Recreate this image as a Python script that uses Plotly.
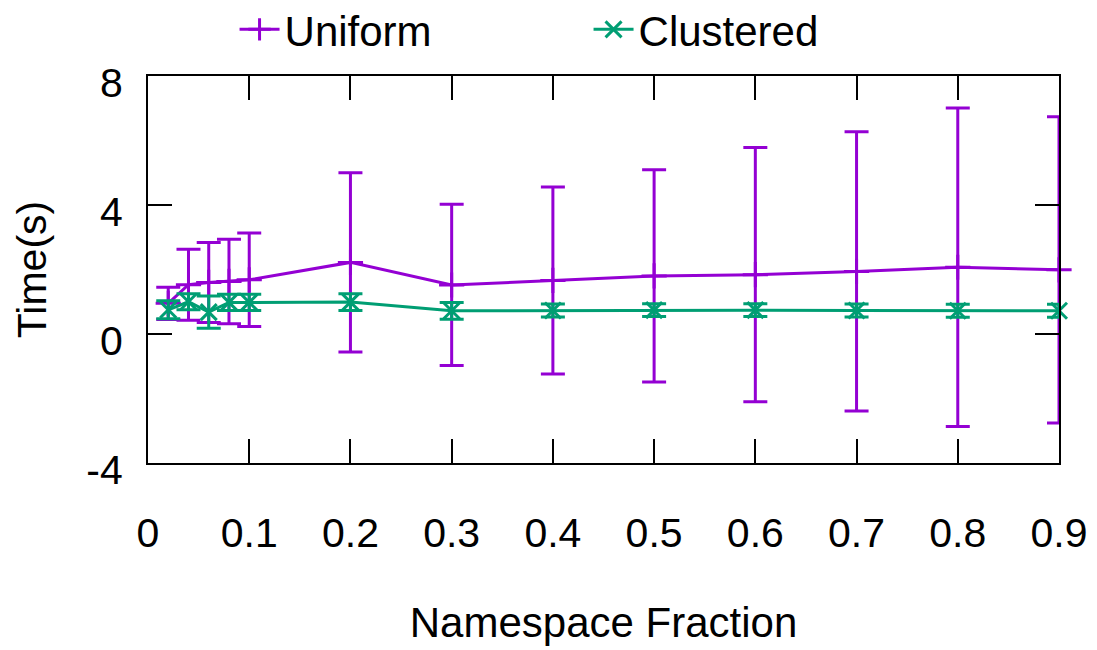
import plotly.graph_objects as go

fractions = [0.02, 0.04, 0.06, 0.08, 0.1, 0.2, 0.3, 0.4, 0.5, 0.6, 0.7, 0.8, 0.9]

uniform_mean = [0.95, 1.53, 1.60, 1.63, 1.68, 2.22, 1.52, 1.66, 1.80, 1.84, 1.94, 2.07, 1.99]
uniform_err = [0.50, 1.10, 1.24, 1.31, 1.45, 2.78, 2.50, 2.90, 3.29, 3.94, 4.33, 4.94, 4.75]

clustered_mean = [0.75, 1.00, 0.68, 0.98, 0.98, 0.99, 0.72, 0.73, 0.74, 0.74, 0.73, 0.72, 0.72]
clustered_err = [0.28, 0.25, 0.50, 0.25, 0.25, 0.26, 0.26, 0.20, 0.20, 0.20, 0.20, 0.20, 0.20]

x_tickvals = [0, 0.1, 0.2, 0.3, 0.4, 0.5, 0.6, 0.7, 0.8, 0.9]
x_ticktext = ["0", "0.1", "0.2", "0.3", "0.4", "0.5", "0.6", "0.7", "0.8", "0.9"]
y_tickvals = [-4, 0, 4, 8]
y_ticktext = ["-4", "0", "4", "8"]

PURPLE = "#9400D3"
GREEN = "#009E73"
FONT = "Liberation Sans, Arial, sans-serif"

fig = go.Figure()
fig.add_trace(go.Scatter(
    x=fractions, y=uniform_mean, name="Uniform", mode="lines+markers",
    line=dict(color=PURPLE, width=3),
    marker=dict(symbol="cross-thin-open", size=18, color=PURPLE,
                line=dict(color=PURPLE, width=3)),
    error_y=dict(type="data", array=uniform_err, visible=True,
                 color=PURPLE, thickness=3, width=12),
    cliponaxis=False,
))
fig.add_trace(go.Scatter(
    x=fractions, y=clustered_mean, name="Clustered", mode="lines+markers",
    line=dict(color=GREEN, width=3),
    marker=dict(symbol="x-thin-open", size=16, color=GREEN,
                line=dict(color=GREEN, width=3)),
    error_y=dict(type="data", array=clustered_err, visible=True,
                 color=GREEN, thickness=3, width=12),
    cliponaxis=False,
))

fig.update_layout(
    width=1089, height=642,
    margin=dict(l=140, r=38, t=68, b=187, autoexpand=False),
    paper_bgcolor="white", plot_bgcolor="white",
    font=dict(family=FONT, size=42, color="black"),
    showlegend=True,
    legend=dict(orientation="h", x=0.095, xanchor="left", y=1.12, yanchor="middle",
                font=dict(size=42), bgcolor="rgba(0,0,0,0)", itemwidth=40,
                entrywidth=299, entrywidthmode="pixels"),
    xaxis=dict(
        range=[0, 0.9], tickvals=x_tickvals, ticktext=x_ticktext,
        showgrid=False, zeroline=False, showline=True, linecolor="black", linewidth=2,
        mirror="allticks", ticks="inside", ticklen=24, tickwidth=1.5, tickcolor="black",
        tickfont=dict(size=41), ticklabelstandoff=33, automargin=False,
        title=dict(text="Namespace Fraction", font=dict(size=42), standoff=52),
    ),
    yaxis=dict(
        range=[-4, 8], tickvals=y_tickvals, ticktext=y_ticktext,
        showgrid=False, zeroline=False, showline=True, linecolor="black", linewidth=2,
        mirror="allticks", ticks="inside", ticklen=24, tickwidth=1.5, tickcolor="black",
        tickfont=dict(size=41), ticklabelstandoff=15, ticklabelshift=7, automargin=False,
        title=dict(text="Time(s)", font=dict(size=41), standoff=27),
    ),
)

fig.write_html("out.html")
